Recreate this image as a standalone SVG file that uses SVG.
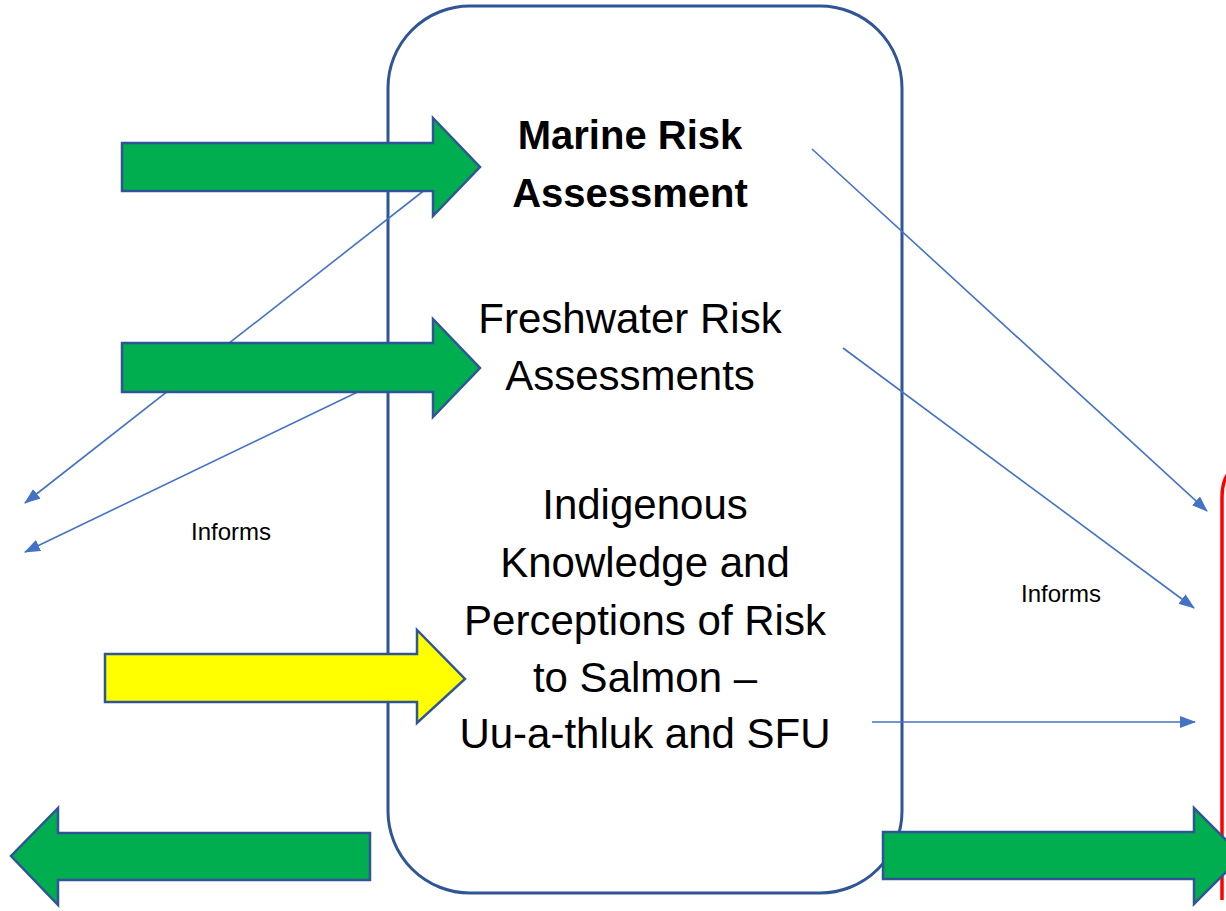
<svg xmlns="http://www.w3.org/2000/svg" width="1226" height="911" viewBox="0 0 1226 911">
<style>
.blk{fill:#00AE50;stroke:#2F5597;stroke-width:2.5;stroke-linejoin:miter}
.yel{fill:#FFFF00;stroke:#2F5597;stroke-width:2.5}
.con{stroke:#4472C4;stroke-width:1.6;fill:none;marker-end:url(#ah)}
.big{font-family:"Liberation Sans",Arial,sans-serif;font-size:42px;fill:#000;text-anchor:middle}
.bold{font-size:40px;font-weight:bold}
.lbl{font-family:"Liberation Sans",Arial,sans-serif;font-size:24px;fill:#000;text-anchor:middle}
</style>
<defs>
<marker id="ah" markerWidth="16" markerHeight="12" refX="15" refY="6" orient="auto" markerUnits="userSpaceOnUse">
<path d="M0,0 L16,6 L0,12 Z" fill="#4472C4"/>
</marker>
</defs>
<rect width="1226" height="911" fill="#fff"/>
<g id="red-box"><path d="M1222,900 L1222,498 Q1222,470 1240,466" fill="none" stroke="#FF0000" stroke-width="3.5"/></g>
<g id="main-box"><rect x="388" y="6" width="514" height="887" rx="82" ry="82" fill="none" stroke="#2F5597" stroke-width="3"/></g>
<g id="connectors">
<line class="con" x1="440" y1="178" x2="25" y2="503"/>
<line class="con" x1="420" y1="362" x2="25" y2="552"/>
<line class="con" x1="812" y1="149" x2="1207" y2="511"/>
<line class="con" x1="843" y1="348" x2="1194" y2="608"/>
<line class="con" x1="872" y1="722" x2="1195" y2="722"/>
</g>
<g id="arrow-marine"><polygon class="blk" points="122,143 433,143 433,118 480,167 433,216 433,191 122,191"/></g>
<g id="arrow-freshwater"><polygon class="blk" points="122,343 433,343 433,319 480,368 433,417 433,392 122,392"/></g>
<g id="arrow-indigenous"><polygon class="yel" points="105,654 417,654 417,630 465,679 417,723 417,702 105,702"/></g>
<g id="arrow-out-left"><polygon class="blk" points="370,833 58,833 58,808 11,856 58,905 58,880 370,880"/></g>
<g id="arrow-out-right"><polygon class="blk" points="883,832 1194,832 1194,808 1242,856 1194,904 1194,879 883,879"/></g>
<g id="node-marine">
<text class="big bold" x="630" y="149">Marine Risk</text>
<text class="big bold" x="630" y="207">Assessment</text>
</g>
<g id="node-freshwater">
<text class="big" x="630" y="333">Freshwater Risk</text>
<text class="big" x="630" y="390">Assessments</text>
</g>
<g id="node-indigenous">
<text class="big" x="645" y="519">Indigenous</text>
<text class="big" x="645" y="577">Knowledge and</text>
<text class="big" x="645" y="635">Perceptions of Risk</text>
<text class="big" x="645" y="692">to Salmon –</text>
<text class="big" x="645" y="748">Uu-a-thluk and SFU</text>
</g>
<g id="labels">
<text class="lbl" x="231" y="540">Informs</text>
<text class="lbl" x="1061" y="602">Informs</text>
</g>
</svg>
